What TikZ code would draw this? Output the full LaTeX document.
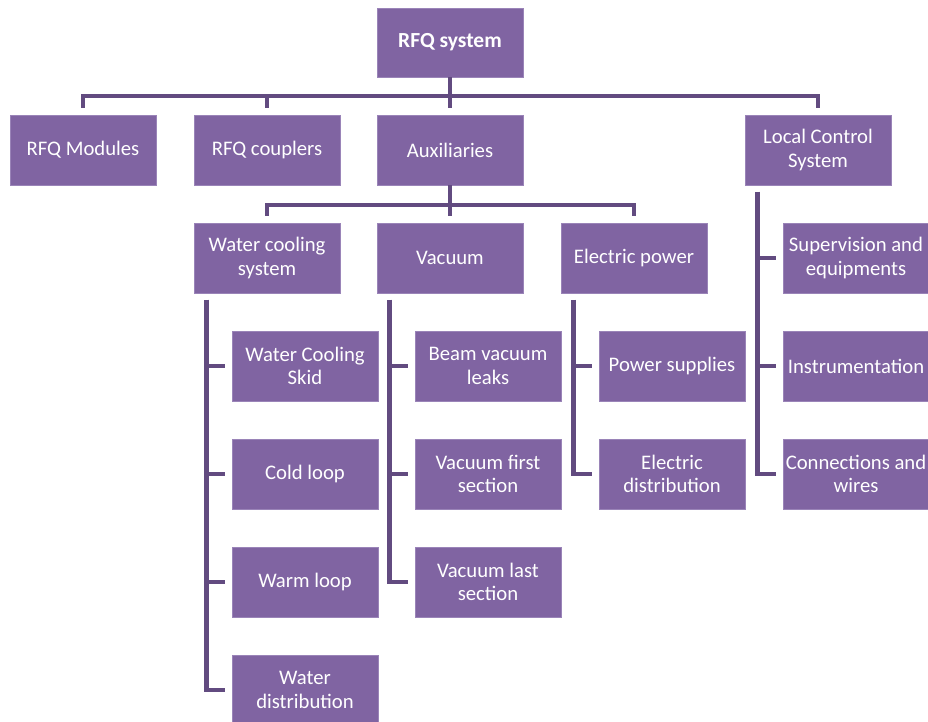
\documentclass[tikz,border=0pt]{standalone}
\usepackage{fontspec}
\setmainfont{Carlito}
\usetikzlibrary{positioning,calc}
\definecolor{boxfill}{HTML}{8064A2}
\definecolor{boxedge}{HTML}{9A84B8}
\definecolor{busline}{HTML}{624B80}

\begin{document}
\begin{tikzpicture}[x=1pt, y=-1pt,
    font=\fontsize{20.7}{23.5}\selectfont,
    box/.style={draw=boxedge, line width=0.6pt, fill=boxfill, text=white,
                minimum width=146pt, minimum height=70pt,
                inner sep=1pt, align=center},
    bus/.style={busline, line width=4.6pt},
    gap/.style={shorten >=7pt}]

  \useasboundingbox (0,0) rectangle (928,722);
  \clip (0,0) rectangle (928,722);

  %% Root
  \node[box, minimum height=69pt, font=\fontsize{21.5}{24}\selectfont\bfseries]
        (root) at (450,42.5) {RFQ system};

  %% First level
  \node[box] (mods) at ( 83,150) {RFQ Modules};
  \node[box] (coup) at (267,150) {RFQ couplers};
  \node[box] (aux)  at (450,150) {Auxiliaries};
  \node[box] (lcs)  at (818,150) {Local Control\\System};

  \coordinate (bustop) at (450,96);
  \draw[bus, gap] (root) -- (aux);
  \draw[bus, gap] (bustop) -| (mods);
  \draw[bus, gap] (bustop) -| (coup);
  \draw[bus, gap] (bustop) -| (lcs);

  %% Auxiliaries
  \node[box] (wcs)  at (267,258) {Water cooling\\system};
  \node[box] (vac)  at (450,258) {Vacuum};
  \node[box] (elec) at (634,258) {Electric power};

  \coordinate (busaux) at (450,205);
  \draw[bus, gap] (aux) -- (vac);
  \draw[bus, gap] (busaux) -| (wcs);
  \draw[bus, gap] (busaux) -| (elec);

  %% Water cooling system
  \node[box] (skid)  at (305,366) {Water Cooling\\Skid};
  \node[box] (cold)  at (305,474) {Cold loop};
  \node[box] (warm)  at (305,582) {Warm loop};
  \node[box] (wdist) at (305,690) {Water\\distribution};
  \coordinate (wtrunk) at ($(wcs.south west)+(12.5,6.5)$);
  \draw[bus, gap] (wtrunk) |- (skid);
  \draw[bus, gap] (wtrunk) |- (cold);
  \draw[bus, gap] (wtrunk) |- (warm);
  \draw[bus, gap] (wtrunk) |- (wdist);

  %% Vacuum
  \node[box] (leaks) at (488,366) {Beam vacuum\\leaks};
  \node[box] (vfirst) at (488,474) {Vacuum first\\section};
  \node[box] (vlast) at (488,582) {Vacuum last\\section};
  \coordinate (vtrunk) at ($(vac.south west)+(12.5,6.5)$);
  \draw[bus, gap] (vtrunk) |- (leaks);
  \draw[bus, gap] (vtrunk) |- (vfirst);
  \draw[bus, gap] (vtrunk) |- (vlast);

  %% Electric power
  \node[box] (psup)  at (672,366) {Power supplies};
  \node[box] (edist) at (672,474) {Electric\\distribution};
  \coordinate (etrunk) at ($(elec.south west)+(12.5,6.5)$);
  \draw[bus, gap] (etrunk) |- (psup);
  \draw[bus, gap] (etrunk) |- (edist);

  %% Local Control System
  \node[box] (superv) at (856,258) {Supervision and\\equipments};
  \node[box] (instr)  at (856,366) {Instrumentation};
  \node[box] (wires)  at (856,474) {Connections and\\wires};
  \coordinate (ltrunk) at ($(lcs.south west)+(12.5,6.5)$);
  \draw[bus, gap] (ltrunk) |- (superv);
  \draw[bus, gap] (ltrunk) |- (instr);
  \draw[bus, gap] (ltrunk) |- (wires);
\end{tikzpicture}
\end{document}
